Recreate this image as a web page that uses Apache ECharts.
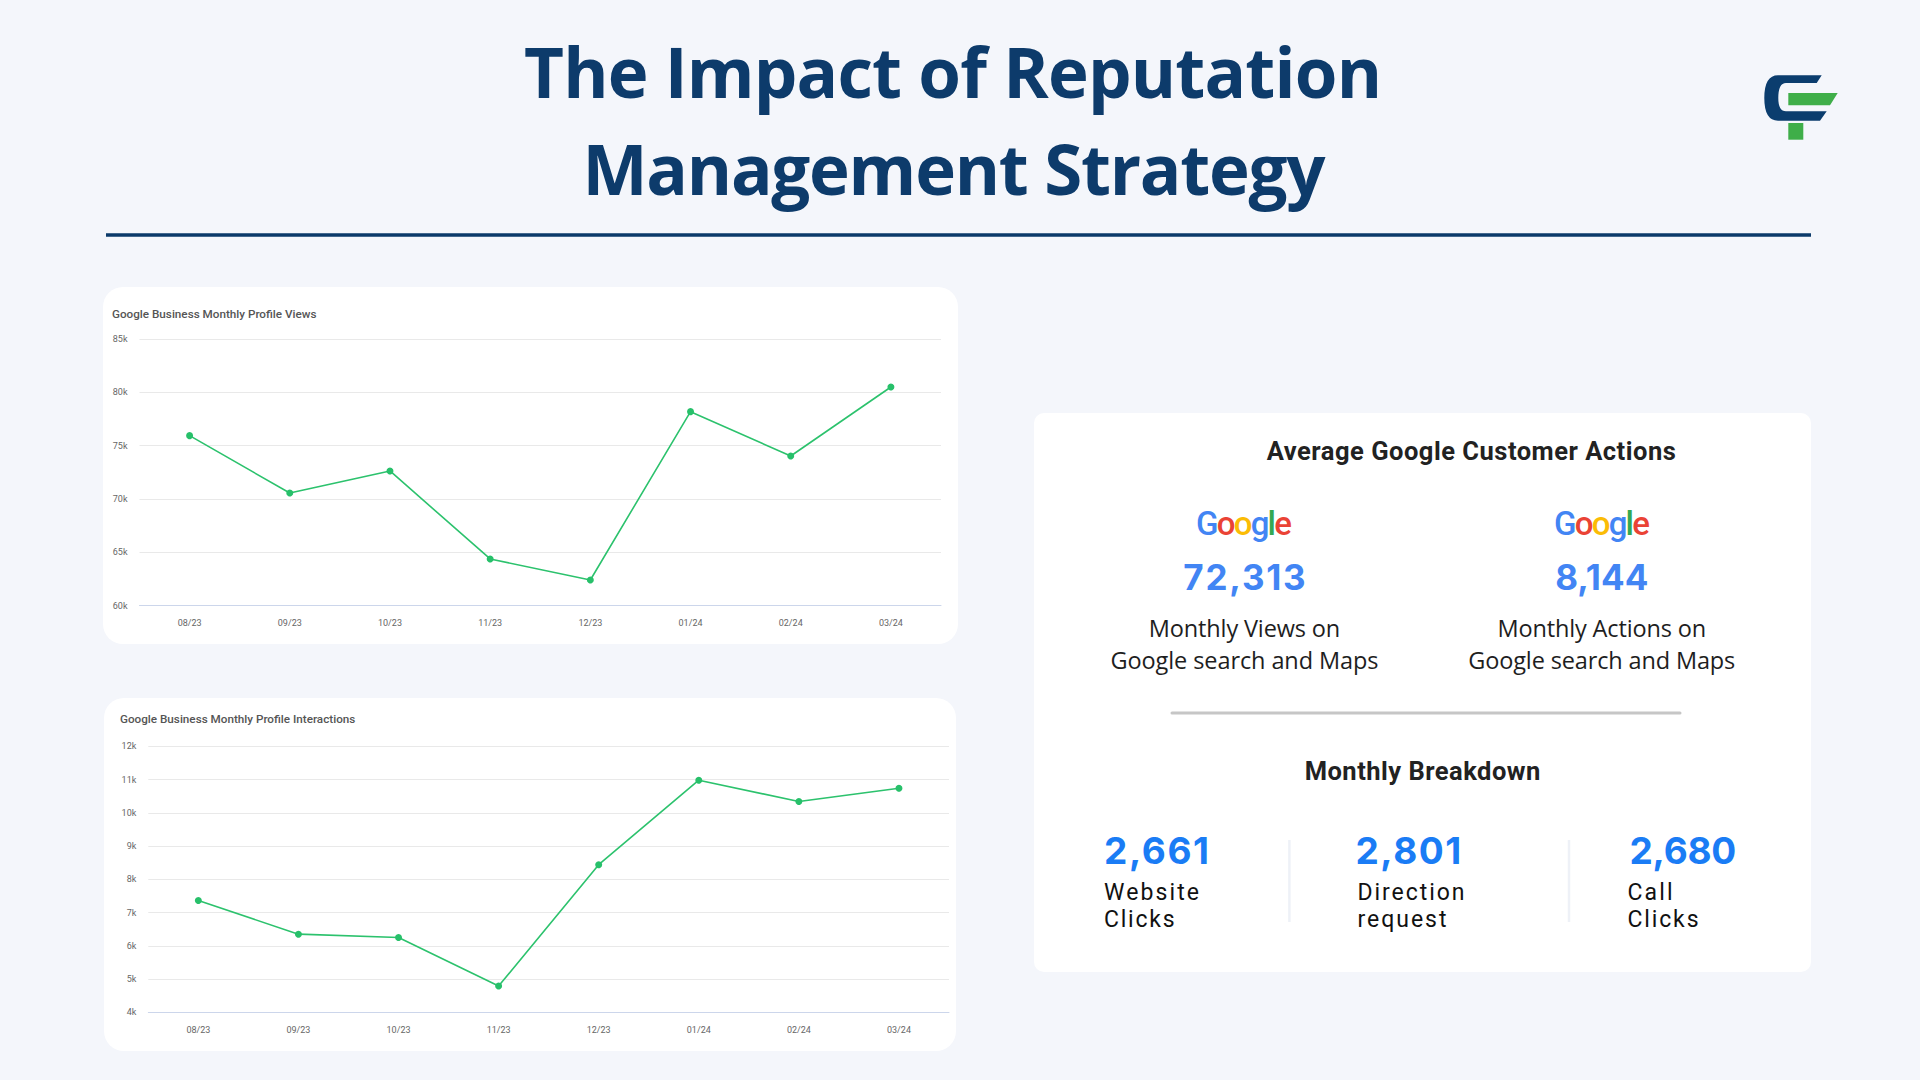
<!DOCTYPE html>
<html>
<head>
<meta charset="utf-8">
<script src="https://cdn.jsdelivr.net/npm/echarts/dist/echarts.min.js"></script>
<style>
  html, body { margin: 0; padding: 0; width: 1920px; height: 1080px; background: #f4f6fb; overflow: hidden; }
  #bg { position: absolute; left: 0; top: 0; }
  .chart { position: absolute; }
</style>
</head>
<body>
<svg id="bg" width="1920" height="1080" xmlns="http://www.w3.org/2000/svg"></svg>
<div id="c1" class="chart" style="left:103px;top:287px;width:855px;height:357px;"></div>
<div id="c2" class="chart" style="left:104px;top:698px;width:852px;height:353px;"></div>
<script>
// ---------- DATA ----------
const months = ['08/23', '09/23', '10/23', '11/23', '12/23', '01/24', '02/24', '03/24'];
const profileViews = [75940, 70560, 72630, 64380, 62410, 78190, 74030, 80500];
const profileInteractions = [7360, 6350, 6250, 4790, 8440, 10980, 10340, 10740];
const viewsAxis = [60000, 85000, 5000];        // min, max, step
const interactionsAxis = [4000, 12000, 1000];  // min, max, step
const chartTitles = ['Google Business Monthly Profile Views', 'Google Business Monthly Profile Interactions'];
const pageTitle = ['The Impact of Reputation', 'Management Strategy'];
const kpiValues = ['72,313', '8,144'];
const kpiLabels = [['Monthly Views on', 'Google search and Maps'], ['Monthly Actions on', 'Google search and Maps']];
const breakdownValues = ['2,661', '2,801', '2,680'];
const breakdownLabels = [['Website', 'Clicks'], ['Direction', 'request'], ['Call', 'Clicks']];

// ---------- STATIC LAYOUT (SVG) ----------
const NS = 'http://www.w3.org/2000/svg';
const svg = document.getElementById('bg');
function el(tag, attrs, parent) {
  const e = document.createElementNS(NS, tag);
  for (const k in attrs) e.setAttribute(k, attrs[k]);
  (parent || svg).appendChild(e);
  return e;
}
function txt(str, attrs) {
  const t = el('text', attrs);
  t.textContent = str;
  return t;
}

// cards
el('rect', { x: 103, y: 287, width: 855, height: 357, rx: 20, fill: '#ffffff' });
el('rect', { x: 104, y: 698, width: 852, height: 353, rx: 20, fill: '#ffffff' });
el('rect', { x: 1034, y: 413, width: 777, height: 559, rx: 10, fill: '#ffffff' });

// title
const titleStyle = { 'font-family': 'Open Sans', 'font-weight': 700, 'font-size': 69, fill: '#0d3b6b', 'text-anchor': 'middle', lengthAdjust: 'spacing' };
txt(pageTitle[0], Object.assign({ x: 953, y: 98, textLength: 858 }, titleStyle));
txt(pageTitle[1], Object.assign({ x: 954, y: 195, textLength: 743 }, titleStyle));
el('line', { x1: 106, y1: 235, x2: 1811, y2: 235, stroke: '#0b3a6a', 'stroke-width': 3.5 });

// logo
el('path', { d: 'M1821.7,75.3 L1778,75.3 Q1764.3,75.3 1764.3,98 Q1764.3,120.7 1778,120.7 L1820,120.7 L1826.7,111.3 L1786,111.3 Q1778.3,111.3 1778.3,98 Q1778.3,83 1786,83 L1816.7,83 Z', fill: '#0b3d6e' });
el('path', { d: 'M1788.3,93 L1837.7,93 L1830,105.3 L1788.3,105.3 Z', fill: '#3fae49' });
el('rect', { x: 1788.3, y: 123, width: 15, height: 16.7, fill: '#3fae49' });

// right panel headings
const headStyle = { 'font-family': 'Roboto', 'font-weight': 700, 'font-size': 25.5, fill: '#222222', 'text-anchor': 'middle', lengthAdjust: 'spacing' };
txt('Average Google Customer Actions', Object.assign({ x: 1471.3, y: 460, textLength: 409 }, headStyle));
txt('Monthly Breakdown', Object.assign({ x: 1422.5, y: 780, textLength: 235.7 }, headStyle));

// google words
const gColors = ['#4285F4', '#EA4335', '#FBBC05', '#4285F4', '#34A853', '#EA4335'];
[1244, 1602].forEach(function (cx) {
  const t = el('text', { x: cx, y: 535, 'font-family': 'Roboto', 'font-weight': 500, 'font-size': 33, 'text-anchor': 'middle', textLength: 95.8, lengthAdjust: 'spacing' });
  'Google'.split('').forEach(function (ch, i) {
    const s = el('tspan', { fill: gColors[i] }, t);
    s.textContent = ch;
  });
});

// KPI values and labels
const kpiCenters = [1244.5, 1601.8];
const kpiWidths = [122.4, 93];
const kpiLine1W = [191.4, 208.6];
const kpiLine2W = [268, 267];
kpiValues.forEach(function (v, i) {
  txt(v, { x: kpiCenters[i], y: 590, 'font-family': 'Inter', 'font-weight': 700, 'font-size': 35, fill: '#4285f4', 'text-anchor': 'middle', textLength: kpiWidths[i], lengthAdjust: 'spacing' });
  const ls = { 'font-family': 'Open Sans', 'font-weight': 400, 'font-size': 23.5, fill: '#1e1e1e', 'text-anchor': 'middle', lengthAdjust: 'spacing' };
  txt(kpiLabels[i][0], Object.assign({ x: kpiCenters[i], y: 636.7, textLength: kpiLine1W[i] }, ls));
  txt(kpiLabels[i][1], Object.assign({ x: kpiCenters[i], y: 669.3, textLength: kpiLine2W[i] }, ls));
});

// separator
el('line', { x1: 1172, y1: 713, x2: 1680, y2: 713, stroke: '#c6c6c6', 'stroke-width': 3, 'stroke-linecap': 'round' });

// breakdown
const bdX = [1104, 1355.5, 1629.5];
const bdLabelX = [1104, 1357.5, 1627.5];
const bdW = [105, 105.7, 106.8];
const bdL1W = [95, 107, 45];
const bdL2W = [70.6, 89, 71];
breakdownValues.forEach(function (v, i) {
  txt(v, { x: bdX[i], y: 864.3, 'font-family': 'Inter', 'font-weight': 700, 'font-size': 37, fill: '#1a7cf5', textLength: bdW[i], lengthAdjust: 'spacing' });
  const ls = { 'font-family': 'Roboto', 'font-weight': 400, 'font-size': 23, fill: '#111111', lengthAdjust: 'spacing' };
  txt(breakdownLabels[i][0], Object.assign({ x: bdLabelX[i], y: 900, textLength: bdL1W[i] }, ls));
  txt(breakdownLabels[i][1], Object.assign({ x: bdLabelX[i], y: 926.7, textLength: bdL2W[i] }, ls));
});
[1289.4, 1569].forEach(function (x) {
  el('line', { x1: x, y1: 840, x2: x, y2: 922, stroke: '#eef1f7', 'stroke-width': 2.5 });
});

// ---------- CHARTS ----------
function lineOption(title, data, axis, grid, titlePos) {
  return {
    animation: false,
    title: {
      text: title, left: titlePos[0], top: titlePos[1], padding: 0,
      textStyle: { fontFamily: 'Roboto', fontWeight: 500, fontSize: 11.7, color: '#555555' }
    },
    grid: grid,
    xAxis: {
      type: 'category', data: months, boundaryGap: true,
      axisLine: { lineStyle: { color: '#ccd6eb', width: 1 } },
      axisTick: { show: false },
      axisLabel: { color: '#666666', fontSize: 9, fontFamily: 'Roboto', margin: 13 },
      splitLine: { show: false }
    },
    yAxis: {
      type: 'value', min: axis[0], max: axis[1], interval: axis[2],
      axisLine: { show: false }, axisTick: { show: false },
      axisLabel: { color: '#666666', fontSize: 9, fontFamily: 'Roboto', margin: 12, formatter: function (v) { return (v / 1000) + 'k'; } },
      splitLine: { lineStyle: { color: '#e9e9e9', width: 1 } }
    },
    series: [{
      type: 'line', data: data,
      symbol: 'circle', symbolSize: 7,
      itemStyle: { color: '#27c06a' },
      lineStyle: { color: '#2cc26d', width: 1.6 }
    }]
  };
}
const c1 = echarts.init(document.getElementById('c1'), null, { renderer: 'svg' });
c1.setOption(lineOption(chartTitles[0], profileViews, viewsAxis, { left: 36.5, right: 17, top: 52, bottom: 38.3 }, [9, 20.5]));
const c2 = echarts.init(document.getElementById('c2'), null, { renderer: 'svg' });
c2.setOption(lineOption(chartTitles[1], profileInteractions, interactionsAxis, { left: 44.3, right: 7, top: 48.3, bottom: 38.7 }, [16, 15.2]));
</script>
</body>
</html>
